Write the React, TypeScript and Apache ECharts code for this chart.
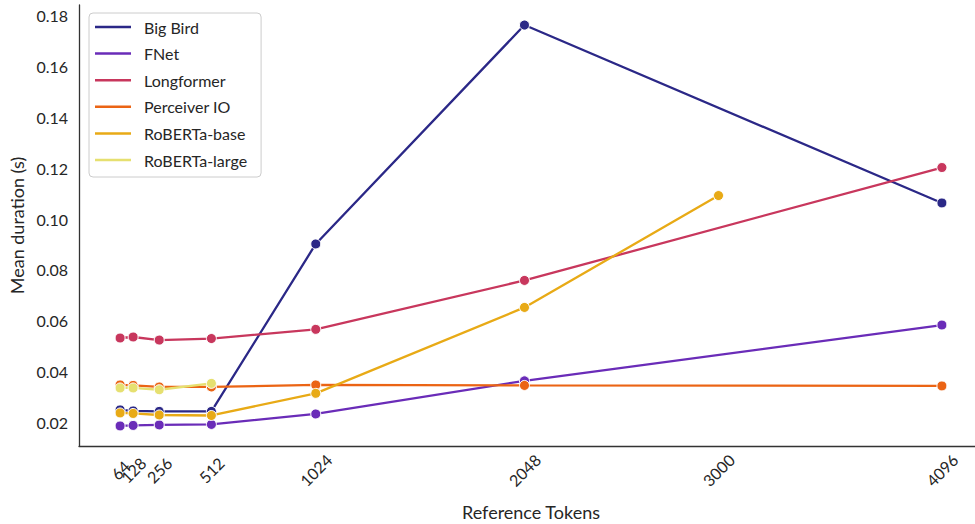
import React, { useEffect, useRef } from "react";
import * as echarts from "echarts";

// Reference token counts (x positions) and tick labels
const tokens = [64, 128, 256, 512, 1024, 2048, 4096];
const robertaBaseTokens = [64, 128, 256, 512, 1024, 2048, 3000];
const robertaLargeTokens = [64, 128, 256, 512];
const xTicks = [64, 128, 256, 512, 1024, 2048, 3000, 4096];
const yTicks = [0.02, 0.04, 0.06, 0.08, 0.1, 0.12, 0.14, 0.16, 0.18];

// Mean duration in seconds per model
const bigBird = [0.0251, 0.0247, 0.0245, 0.0245, 0.0902, 0.1761, 0.1063];
const fnet = [0.0188, 0.019, 0.0192, 0.0194, 0.0235, 0.0365, 0.0584];
const longformer = [0.0533, 0.0537, 0.0525, 0.0531, 0.0567, 0.0759, 0.1202];
const perceiverIO = [0.0349, 0.0347, 0.0341, 0.0341, 0.0349, 0.0347, 0.0345];
const robertaBase = [0.0239, 0.0237, 0.0231, 0.0229, 0.0316, 0.0653, 0.1092];
const robertaLarge = [0.0337, 0.0337, 0.033, 0.0355];

const modelNames = ["Big Bird", "FNet", "Longformer", "Perceiver IO", "RoBERTa-base", "RoBERTa-large"];
const modelColors = ["#2b2887", "#6a2cb8", "#c8375d", "#eb6414", "#e8aa16", "#e6e070"];

const FONT = "Lato, 'Open Sans', sans-serif";
const TEXT = "#262626";
const X_MIN = -137.6;
const X_MAX = 4297.6;

function pairs(xs: number[], ys: number[]) {
  return xs.map((x, i) => [x, ys[i]]);
}

const tickLabelStyle = {
  hideOverlap: false,
  rotate: 45,
  align: "center",
  verticalAlign: "middle",
  margin: 24,
  fontFamily: FONT,
  fontSize: 16,
  color: TEXT,
  formatter: (v: number) => String(v),
};

export default function App() {
  const ref = useRef<HTMLDivElement>(null);

  useEffect(() => {
    if (!ref.current) return;
    const chart = echarts.init(ref.current, undefined, { renderer: "svg" });

    const seriesData = [
      pairs(tokens, bigBird),
      pairs(tokens, fnet),
      pairs(tokens, longformer),
      pairs(tokens, perceiverIO),
      pairs(robertaBaseTokens, robertaBase),
      pairs(robertaLargeTokens, robertaLarge),
    ];

    chart.setOption({
      animation: false,
      backgroundColor: "#ffffff",
      color: modelColors,
      textStyle: { fontFamily: FONT },
      grid: {
        left: 79,
        right: -8,
        top: 5,
        bottom: 78,
        containLabel: false,
        outerBoundsMode: "none",
      },
      legend: {
        left: 89,
        top: 13,
        orient: "vertical",
        icon: "rect",
        itemWidth: 36,
        itemHeight: 2.5,
        itemGap: 6.6,
        padding: [4, 14, 7, 6],
        borderColor: "#cccccc",
        borderWidth: 1,
        borderRadius: 4,
        backgroundColor: "#ffffff",
        itemStyle: { borderWidth: 0 },
        lineStyle: { width: 0 },
        textStyle: {
          fontFamily: FONT,
          fontSize: 16,
          lineHeight: 20,
          color: TEXT,
          padding: [0, 0, 0, 8],
        },
        data: modelNames.map((name, i) => ({
          name,
          itemStyle: { color: modelColors[i], borderWidth: 0 },
        })),
      },
      xAxis: [
        {
          type: "value",
          min: X_MIN,
          max: X_MAX,
          name: "Reference Tokens",
          nameLocation: "middle",
          nameGap: 57,
          nameMoveOverlap: false,
          nameTextStyle: { fontFamily: FONT, fontSize: 18, color: TEXT },
          axisLine: { show: true, onZero: false, lineStyle: { color: "#333333", width: 1.3 } },
          axisTick: { show: false },
          splitLine: { show: false },
          axisLabel: { ...tickLabelStyle, customValues: xTicks.slice(1) },
        },
        {
          // overlay axis carrying the first tick label so it is not dropped beside 128
          type: "value",
          position: "bottom",
          min: X_MIN,
          max: X_MAX,
          axisLine: { show: false, onZero: false },
          axisTick: { show: false },
          splitLine: { show: false },
          axisLabel: { ...tickLabelStyle, customValues: xTicks.slice(0, 1) },
        },
      ],
      yAxis: {
        type: "value",
        min: 0.01093,
        max: 0.18397,
        name: "Mean duration (s)",
        nameLocation: "middle",
        nameGap: 53,
        nameMoveOverlap: false,
        nameTextStyle: { fontFamily: FONT, fontSize: 18, color: TEXT },
        axisLine: { show: true, onZero: false, lineStyle: { color: "#333333", width: 1.3 } },
        axisTick: { show: false },
        splitLine: { show: false },
        axisLabel: {
          customValues: yTicks,
          hideOverlap: false,
          margin: 11,
          fontFamily: FONT,
          fontSize: 16,
          color: TEXT,
          formatter: (v: number) => v.toFixed(2),
        },
      },
      series: modelNames.map((name, i) => ({
        name,
        type: "line",
        xAxisIndex: 0,
        data: seriesData[i],
        symbol: "circle",
        symbolSize: 10,
        showSymbol: true,
        lineStyle: { width: 2.3, color: modelColors[i] },
        itemStyle: { color: modelColors[i], borderColor: "#ffffff", borderWidth: 1 },
        emphasis: { disabled: true },
        z: 2 + i,
      })),
    });

    return () => chart.dispose();
  }, []);

  return (
    <div
      ref={ref}
      style={{ position: "fixed", left: 0, top: 0, width: 975, height: 524 }}
    />
  );
}
